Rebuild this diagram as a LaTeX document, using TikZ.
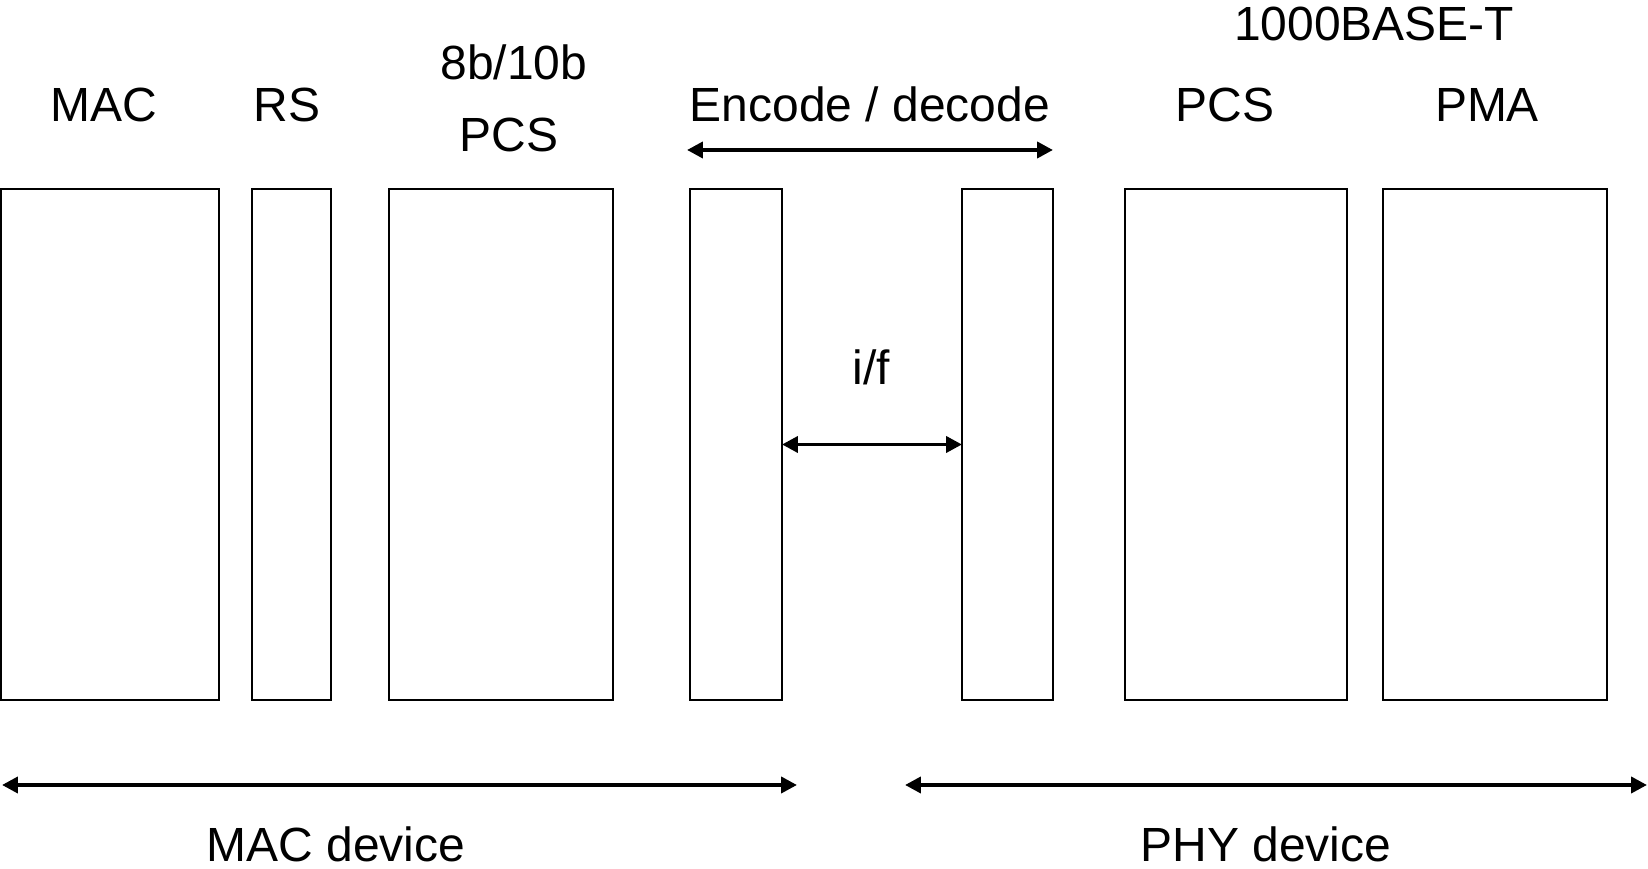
\documentclass[tikz,border=0pt]{standalone}
\usepackage{fontspec}
\setmainfont{Liberation Sans}
\usetikzlibrary{arrows.meta}

\tikzset{
  blk/.style={draw,line width=1pt,inner sep=0pt,outer sep=0pt,anchor=south west,minimum height=10.22cm},
  lbl/.style={font=\fontsize{27.3}{33}\selectfont,anchor=base,inner sep=0pt},
  span/.style={{Triangle[length=9pt,width=9pt]}-{Triangle[length=9pt,width=9pt]},line width=2.2pt}
}

\begin{document}
\begin{tikzpicture}
\useasboundingbox (0,0) rectangle (32.96,17.38);

% layer boxes
\node[blk,minimum width=4.36cm] (mac) at (0.02,3.38) {};
\node[blk,minimum width=1.58cm] (rs) at (5.04,3.38) {};
\node[blk,minimum width=4.48cm] (pcsa) at (7.78,3.38) {};
\node[blk,minimum width=1.84cm] (encl) at (13.80,3.38) {};
\node[blk,minimum width=1.82cm] (encr) at (19.24,3.38) {};
\node[blk,minimum width=4.44cm] (pcsb) at (22.50,3.38) {};
\node[blk,minimum width=4.48cm] (pma) at (27.66,3.38) {};

% labels
\node[lbl] (tmac) at (2.08,14.94) {MAC};
\node[lbl] (trs) at (5.74,14.94) {RS};
\node[lbl] (tcode) at (10.28,15.78) {8b/10b};
\node[lbl] (tpcsa) at (10.18,14.34) {PCS};
\node[lbl] (tenc) at (17.40,14.94) {Encode / decode};
\node[lbl] (tbase) at (27.48,16.56) {1000BASE-T};
\node[lbl] (tpcsb) at (24.50,14.94) {PCS};
\node[lbl] (tpma) at (29.74,14.94) {PMA};
\node[lbl] (tif) at (17.42,9.68) {i/f};
\node[lbl] (tmacdev) at (6.72,0.14) {MAC device};
\node[lbl] (tphydev) at (25.32,0.14) {PHY device};

% spans
\coordinate (e1) at (13.74,14.38);
\coordinate (e2) at (21.06,14.38);
\coordinate (m1) at (0.04,1.68);
\coordinate (m2) at (15.94,1.68);
\coordinate (p1) at (18.10,1.68);
\coordinate (p2) at (32.94,1.68);
\draw[span] (e1) -- (e2);
\draw[span] (encl.east) -- (encr.west);
\draw[span] (m1) -- (m2);
\draw[span] (p1) -- (p2);

\end{tikzpicture}
\end{document}
